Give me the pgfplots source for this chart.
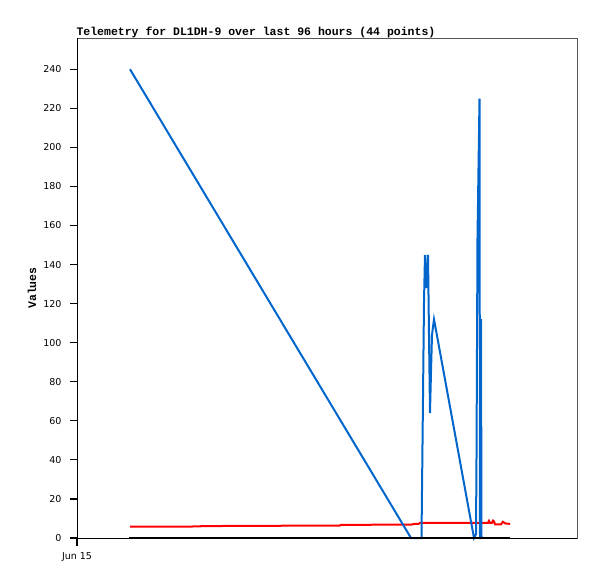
\documentclass[border=0pt]{standalone}
\usepackage{pgfplots}
\pgfplotsset{compat=1.18}
\usepackage{fontspec}
\setmainfont{DejaVu Sans}
\newfontfamily\monob{Liberation Mono}
\definecolor{telblue}{HTML}{0066CC}
\definecolor{framegray}{HTML}{555555}
\begin{document}
\begin{tikzpicture}
\useasboundingbox (-77pt,-41pt) rectangle (520pt,538pt);
\begin{axis}[
  at={(0pt,0pt)}, anchor=south west,
  scale only axis, width=500pt, height=500pt,
  xmin=0, xmax=500, ymin=0, ymax=256,
  clip=false,
  axis line style={framegray, line width=0.8pt},
  ytick={0,20,...,240},
  xtick={0}, xticklabels={Jun 15},
  major tick length=0pt,
  /pgf/number format/assume math mode=true,
  ticklabel style={font=\fontsize{9.5}{11}\selectfont},
  yticklabel style={anchor=east, xshift=-12pt},
  xticklabel style={anchor=north, yshift=-11pt},
  ylabel={Values},
  ylabel style={at={(axis description cs:-0.09,0.5)}, anchor=center,
    font=\monob\bfseries\fontsize{11.5}{12}\selectfont},
  title={Telemetry for DL1DH-9 over last 96 hours (44 points)},
  title style={at={(axis description cs:0,1)}, anchor=base west, yshift=-4pt, xshift=-4pt,
    font=\monob\bfseries\fontsize{11.5}{12}\selectfont},
]
% left and bottom axis lines in black
\draw[black, line width=0.9pt] (rel axis cs:0,0) -- (rel axis cs:0,1);
\draw[black, line width=0.9pt] (rel axis cs:0,0) -- (rel axis cs:1,0);
% tick marks
\pgfplotsinvokeforeach{0,20,40,60,80,100,120,140,160,180,200,220,240}{
  \draw[black, line width=1.2pt] (axis cs:0,#1) -- ([xshift=-7pt]axis cs:0,#1);
}
\draw[black, line width=1.2pt] (axis cs:0,0) -- ([yshift=-8pt]axis cs:0,0);
% red series
\addplot[red, line width=2pt, mark=none] coordinates {
  (53,5.8) (123,5.9) (124,6.1) (263,6.4) (264,6.7) (335,6.9) (337,7.2)
  (342,7.3) (343,7.8) (411,7.8) (412,8.8) (413,7.8) (415,7.8) (416,8.9)
  (417,8.5) (418,7.0) (424,7.0) (426,8.3) (428,7.5) (433,7.2)
};
% blue series
\addplot[telblue, line width=2pt, mark=none] coordinates {
  (53,240) (334,0) (344.5,0) (345,24) (346,72) (347,121) (348,145)
  (349,128) (350,137) (351,145) (352,104) (353,64) (354,85) (355,104)
  (357,112) (397,0) (399,2) (399.5,41) (400.5,154) (402.5,225) (403,0)
  (403.5,0) (404,112) (404.5,0)
};
% black series
\addplot[black, line width=2pt, mark=none] coordinates {
  (52,0) (433,0)
};
\end{axis}
\end{tikzpicture}
\end{document}
